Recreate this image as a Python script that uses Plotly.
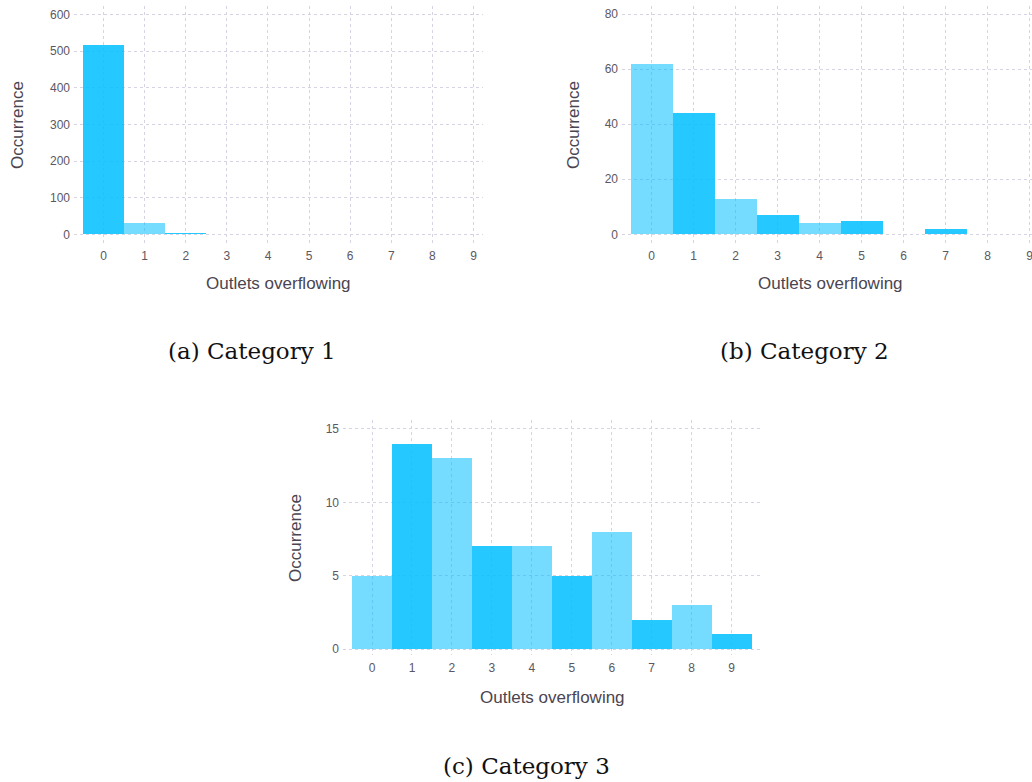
import plotly.graph_objects as go

# Histogram counts of overflowing outlets per category
outlets = [0, 1, 2, 3, 4, 5, 6, 7, 8, 9]
tick_labels = ["0", "1", "2", "3", "4", "5", "6", "7", "8", "9"]
category_1 = [516, 32, 4, 0, 0, 0, 0, 0, 0, 0]
category_2 = [62, 44, 13, 7, 4, 5, 0, 2, 0, 0]
category_3 = [5, 14, 13, 7, 7, 5, 8, 2, 3, 1]
captions = ["(a) Category 1", "(b) Category 2", "(c) Category 3"]

W, H = 1032, 782
DARK = "rgba(0,191,255,0.85)"
LIGHT = "rgba(0,191,255,0.54)"
GRID = "#d6d4e4"
TICK_COLOR = "#5c5762"
TITLE_COLOR = "#4a4550"
SANS = "Liberation Sans, Arial, sans-serif"
SERIF = "DejaVu Serif, serif"


def px_x(x):
    return x / W


def px_y(y):
    return 1 - y / H


# panel geometry in pixels: left, right, top, bottom, x range, y range, y ticks
panels = [
    dict(counts=category_1, first_dark=True, box=(74, 483, 6, 243),
         xr=[-0.718, 9.23], yr=[-23.7, 623], yticks=[0, 100, 200, 300, 400, 500, 600],
         xtitle=(278, 283), ytitle=(17, 125), caption=(252, 351)),
    dict(counts=category_2, first_dark=False, box=(622, 1032, 6, 243),
         xr=[-0.707, 9.055], yr=[-3.16, 83.0], yticks=[0, 20, 40, 60, 80],
         xtitle=(830, 283), ytitle=(573, 125), caption=(804, 351)),
    dict(counts=category_3, first_dark=False, box=(343, 760, 420, 655),
         xr=[-0.726, 9.71], yr=[-0.4, 15.61], yticks=[0, 5, 10, 15],
         xtitle=(552, 697), ytitle=(295, 538), caption=(526, 766)),
]

fig = go.Figure()
annotations = []
layout_axes = {}

for i, p in enumerate(panels):
    n = "" if i == 0 else str(i + 1)
    colors = []
    for k in range(len(outlets)):
        dark = (k % 2 == 0) == p["first_dark"]
        colors.append(DARK if dark else LIGHT)
    fig.add_trace(go.Bar(
        x=outlets, y=p["counts"], width=1,
        marker=dict(color=colors, line=dict(width=0)),
        xaxis="x" + n, yaxis="y" + n, showlegend=False,
    ))
    l, r, t, b = p["box"]
    common = dict(showgrid=True, gridcolor=GRID, griddash="3px,3px", gridwidth=1,
                  zeroline=False, showline=False, ticks="", ticklabeloverflow="allow",
                  tickfont=dict(family=SANS, size=12, color=TICK_COLOR))
    layout_axes["xaxis" + n] = dict(
        domain=[px_x(l), min(px_x(r), 1.0)], range=p["xr"], anchor="y" + n,
        tickvals=outlets, ticktext=tick_labels, ticklabelstandoff=4, **common)
    layout_axes["yaxis" + n] = dict(
        domain=[px_y(b), px_y(t)], range=p["yr"], anchor="x" + n,
        tickvals=p["yticks"], ticklabelstandoff=3, **common)

    annotations.append(dict(
        text="Outlets overflowing", x=px_x(p["xtitle"][0]), y=px_y(p["xtitle"][1]),
        xref="paper", yref="paper", xanchor="center", yanchor="middle", showarrow=False,
        font=dict(family=SANS, size=17, color=TITLE_COLOR)))
    annotations.append(dict(
        text="Occurrence", x=px_x(p["ytitle"][0]), y=px_y(p["ytitle"][1]), textangle=-90,
        xref="paper", yref="paper", xanchor="center", yanchor="middle", showarrow=False,
        font=dict(family=SANS, size=17, color=TITLE_COLOR)))
    annotations.append(dict(
        text=captions[i], x=px_x(p["caption"][0]), y=px_y(p["caption"][1]),
        xref="paper", yref="paper", xanchor="center", yanchor="middle", showarrow=False,
        font=dict(family=SERIF, size=23, color="#111111")))

fig.update_layout(
    width=W, height=H, margin=dict(l=0, r=0, t=0, b=0),
    paper_bgcolor="white", plot_bgcolor="white",
    bargap=0, annotations=annotations, **layout_axes,
)

fig.write_html("out.html")
